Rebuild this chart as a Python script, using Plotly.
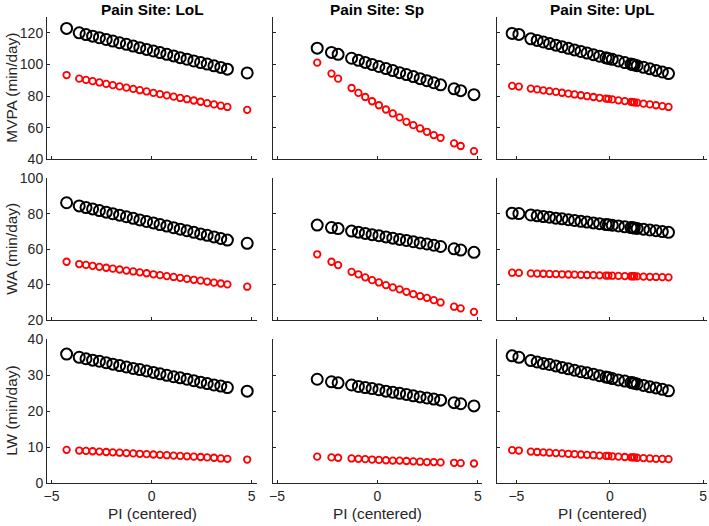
import plotly.graph_objects as go

# ---------------- data ----------------
sites = ["LoL", "Sp", "UpL"]
outcomes = ["MVPA (min/day)", "WA (min/day)", "LW (min/day)"]

x_lol = [-4.25, -3.62, -3.28, -2.95, -2.61, -2.27, -1.94, -1.60, -1.26, -0.92, -0.59, -0.25, 0.09,
         0.42, 0.76, 1.10, 1.43, 1.77, 2.11, 2.45, 2.78, 3.12, 3.46, 3.79, 4.78]
x_sp = [-3.00, -2.29, -1.96, -1.29, -0.95, -0.61, -0.27, 0.07, 0.42, 0.76, 1.10, 1.44, 1.78, 2.12,
        2.46, 2.80, 3.14, 3.81, 4.14, 4.80]
x_upl = [-5.23, -4.87, -4.23, -3.89, -3.56, -3.23, -2.89, -2.56, -2.22, -1.89, -1.55, -1.22, -0.88,
         -0.55, -0.21, -0.08, 0.13, 0.46, 0.80, 1.13, 1.22, 1.31, 1.46, 1.80, 2.14, 2.47, 2.81, 3.14]

# LoL
mvpa_black_lol = [122.8, 120.0, 118.9, 117.9, 116.9, 115.8, 114.8, 113.7, 112.7, 111.6, 110.6, 109.5, 108.5,
                  107.5, 106.4, 105.4, 104.3, 103.3, 102.2, 101.2, 100.2, 99.1, 98.1, 97.0, 94.6]
mvpa_red_lol = [93.3, 91.0, 90.2, 89.4, 88.6, 87.7, 86.9, 86.1, 85.3, 84.5, 83.7, 82.9, 82.0,
                81.2, 80.4, 79.6, 78.8, 78.0, 77.2, 76.4, 75.5, 74.7, 73.9, 73.1, 71.3]
wa_black_lol = [86.2, 84.4, 83.5, 82.7, 81.8, 80.9, 80.0, 79.2, 78.3, 77.4, 76.5, 75.6, 74.8,
                73.9, 73.0, 72.1, 71.3, 70.4, 69.5, 68.6, 67.8, 66.9, 66.0, 65.1, 63.3]
wa_red_lol = [52.9, 51.6, 51.1, 50.6, 50.0, 49.5, 49.0, 48.5, 47.9, 47.4, 46.9, 46.4, 45.8,
              45.3, 44.8, 44.3, 43.8, 43.2, 42.7, 42.2, 41.7, 41.1, 40.6, 40.1, 38.8]
lw_black_lol = [35.9, 35.0, 34.6, 34.2, 33.9, 33.5, 33.1, 32.7, 32.3, 31.9, 31.6, 31.2, 30.8,
                30.4, 30.0, 29.6, 29.3, 28.9, 28.5, 28.1, 27.7, 27.3, 27.0, 26.6, 25.6]
lw_red_lol = [9.3, 9.1, 9.0, 8.9, 8.8, 8.7, 8.6, 8.5, 8.4, 8.3, 8.2, 8.1, 8.0,
              7.9, 7.8, 7.7, 7.6, 7.5, 7.4, 7.3, 7.2, 7.1, 6.9, 6.8, 6.6]

# Sp
mvpa_black_sp = [110.3, 107.6, 106.4, 103.9, 102.6, 101.3, 100.0, 98.7, 97.4, 96.1, 94.8, 93.6, 92.3,
                 91.0, 89.7, 88.4, 87.1, 84.6, 83.4, 80.9]
mvpa_red_sp = [101.1, 94.2, 91.0, 85.1, 82.0, 79.4, 76.7, 74.2, 71.5, 69.0, 66.5, 63.7, 61.6,
               59.5, 57.4, 55.3, 53.6, 50.1, 48.4, 45.2]
wa_black_sp = [73.6, 72.2, 71.6, 70.2, 69.6, 68.9, 68.2, 67.6, 66.9, 66.2, 65.5, 64.9, 64.2,
               63.5, 62.9, 62.2, 61.5, 60.2, 59.5, 58.2]
wa_red_sp = [57.1, 52.9, 51.0, 47.2, 45.8, 44.1, 42.5, 41.2, 39.7, 38.4, 37.3, 35.9, 34.6,
             33.5, 32.5, 31.2, 29.9, 27.5, 26.6, 24.6]
lw_black_sp = [28.9, 28.2, 27.9, 27.3, 26.9, 26.6, 26.3, 26.0, 25.6, 25.3, 25.0, 24.7, 24.3,
               24.0, 23.7, 23.4, 23.1, 22.4, 22.1, 21.5]
lw_red_sp = [7.4, 7.2, 7.1, 6.9, 6.8, 6.7, 6.6, 6.5, 6.4, 6.3, 6.3, 6.2, 6.1,
             6.0, 5.9, 5.9, 5.8, 5.7, 5.6, 5.5]

# UpL
mvpa_black_upl = [119.6, 119.0, 116.2, 115.2, 114.2, 113.2, 112.2, 111.2, 110.2, 109.2, 108.2, 107.2, 106.2,
                  105.2, 104.2, 103.8, 103.2, 102.2, 101.2, 100.2, 99.9, 99.7, 99.2, 98.2, 97.2, 96.2, 95.2, 94.2]
mvpa_red_upl = [86.4, 86.0, 84.7, 84.2, 83.6, 83.1, 82.6, 82.1, 81.5, 81.0, 80.5, 79.9, 79.4,
                78.9, 78.4, 78.2, 77.9, 77.3, 76.8, 76.3, 76.1, 76.0, 75.8, 75.2, 74.7, 74.2, 73.6, 73.1]
wa_black_upl = [80.3, 80.1, 79.3, 78.8, 78.4, 78.0, 77.5, 77.1, 76.6, 76.2, 75.7, 75.3, 74.8,
                74.4, 73.9, 73.8, 73.5, 73.1, 72.6, 72.2, 72.1, 71.9, 71.7, 71.3, 70.8, 70.4, 69.9, 69.5]
wa_red_upl = [46.7, 46.6, 46.3, 46.2, 46.1, 46.0, 45.9, 45.8, 45.7, 45.6, 45.5, 45.4, 45.3,
              45.2, 45.1, 45.1, 45.0, 44.9, 44.8, 44.7, 44.7, 44.7, 44.6, 44.5, 44.4, 44.3, 44.2, 44.1]
lw_black_upl = [35.4, 35.0, 34.1, 33.7, 33.3, 33.0, 32.6, 32.2, 31.8, 31.4, 31.0, 30.7, 30.3,
                29.9, 29.5, 29.4, 29.1, 28.7, 28.4, 28.0, 27.9, 27.8, 27.6, 27.2, 26.8, 26.5, 26.1, 25.7]
lw_red_upl = [9.2, 9.1, 8.8, 8.7, 8.6, 8.5, 8.4, 8.3, 8.2, 8.1, 8.0, 7.9, 7.8,
              7.7, 7.6, 7.6, 7.5, 7.4, 7.3, 7.2, 7.2, 7.2, 7.1, 7.0, 6.9, 6.8, 6.8, 6.7]

x_by_site = [x_lol, x_sp, x_upl]
black = [[mvpa_black_lol, mvpa_black_sp, mvpa_black_upl],
         [wa_black_lol, wa_black_sp, wa_black_upl],
         [lw_black_lol, lw_black_sp, lw_black_upl]]
red = [[mvpa_red_lol, mvpa_red_sp, mvpa_red_upl],
       [wa_red_lol, wa_red_sp, wa_red_upl],
       [lw_red_lol, lw_red_sp, lw_red_upl]]

x_ticks = [-5, 0, 5]
y_ticks = [[40, 60, 80, 100, 120], [20, 40, 60, 80, 100], [0, 10, 20, 30, 40]]

# ---------------- layout geometry ----------------
W, H = 709, 526
col_px = [(47, 257), (273, 482), (497, 707)]
row_px = [(17, 159.3), (178.3, 320), (339.3, 483.3)]
x_ranges = [[-5.23, 5.27], [-5.2, 5.2], [-6.04, 5.2]]
y_ranges = [[40, 130], [20, 100], [0, 40]]

AX = "#262626"
FONT = "Liberation Sans, Arial, Helvetica, sans-serif"

fig = go.Figure()
layout = dict(
    width=W, height=H,
    margin=dict(l=0, r=0, t=0, b=0, autoexpand=False),
    paper_bgcolor="white", plot_bgcolor="white",
    showlegend=False,
    font=dict(family=FONT, size=14, color=AX),
)

annotations = []
for r in range(3):
    for c in range(3):
        idx = r * 3 + c + 1
        sfx = "" if idx == 1 else str(idx)
        fig.add_trace(go.Scatter(
            x=x_by_site[c], y=black[r][c], mode="markers",
            marker=dict(symbol="circle-open", size=11, color="black", line=dict(width=2, color="black")),
            xaxis="x" + sfx, yaxis="y" + sfx, hoverinfo="x+y"))
        fig.add_trace(go.Scatter(
            x=x_by_site[c], y=red[r][c], mode="markers",
            marker=dict(symbol="circle-open", size=6.5, color="red", line=dict(width=1.8, color="red")),
            xaxis="x" + sfx, yaxis="y" + sfx, hoverinfo="x+y"))
        layout["xaxis" + sfx] = dict(
            domain=[col_px[c][0] / W, col_px[c][1] / W],
            range=x_ranges[c], anchor="y" + sfx, automargin=False,
            tickvals=x_ticks, showticklabels=(r == 2),
            ticks="inside", ticklen=3, tickwidth=1, tickcolor=AX,
            showline=True, linecolor=AX, linewidth=1,
            showgrid=False, zeroline=False,
            tickfont=dict(family=FONT, size=14, color=AX),
        )
        layout["yaxis" + sfx] = dict(
            domain=[(H - row_px[r][1]) / H, (H - row_px[r][0]) / H],
            range=y_ranges[r], anchor="x" + sfx, automargin=False,
            tickvals=y_ticks[r], showticklabels=(c == 0),
            ticks="inside", ticklen=3, tickwidth=1, tickcolor=AX,
            showline=True, linecolor=AX, linewidth=1,
            showgrid=False, zeroline=False,
            tickfont=dict(family=FONT, size=14, color=AX),
        )

for c in range(3):
    cx = (col_px[c][0] + col_px[c][1]) / 2 / W
    annotations.append(dict(
        text="<b>Pain Site: %s</b>" % sites[c], x=cx, y=1 - 9.5 / H,
        xref="paper", yref="paper", xanchor="center", yanchor="middle",
        showarrow=False, font=dict(family=FONT, size=15.4, color="black")))
    annotations.append(dict(
        text="PI (centered)", x=cx, y=(H - 513) / H,
        xref="paper", yref="paper", xanchor="center", yanchor="middle",
        showarrow=False, font=dict(family=FONT, size=15.4, color=AX)))

for r in range(3):
    cy = (H - (row_px[r][0] + row_px[r][1]) / 2) / H
    annotations.append(dict(
        text=outcomes[r], x=11.5 / W, y=cy, textangle=-90,
        xref="paper", yref="paper", xanchor="center", yanchor="middle",
        showarrow=False, font=dict(family=FONT, size=15.4, color=AX)))

layout["annotations"] = annotations
fig.update_layout(**layout)
fig.write_html(
    "out.html",
    config={"displayModeBar": False},
    post_script="document.body.style.margin='0';document.body.style.padding='0';"
                "document.documentElement.style.overflow='hidden';",
)
